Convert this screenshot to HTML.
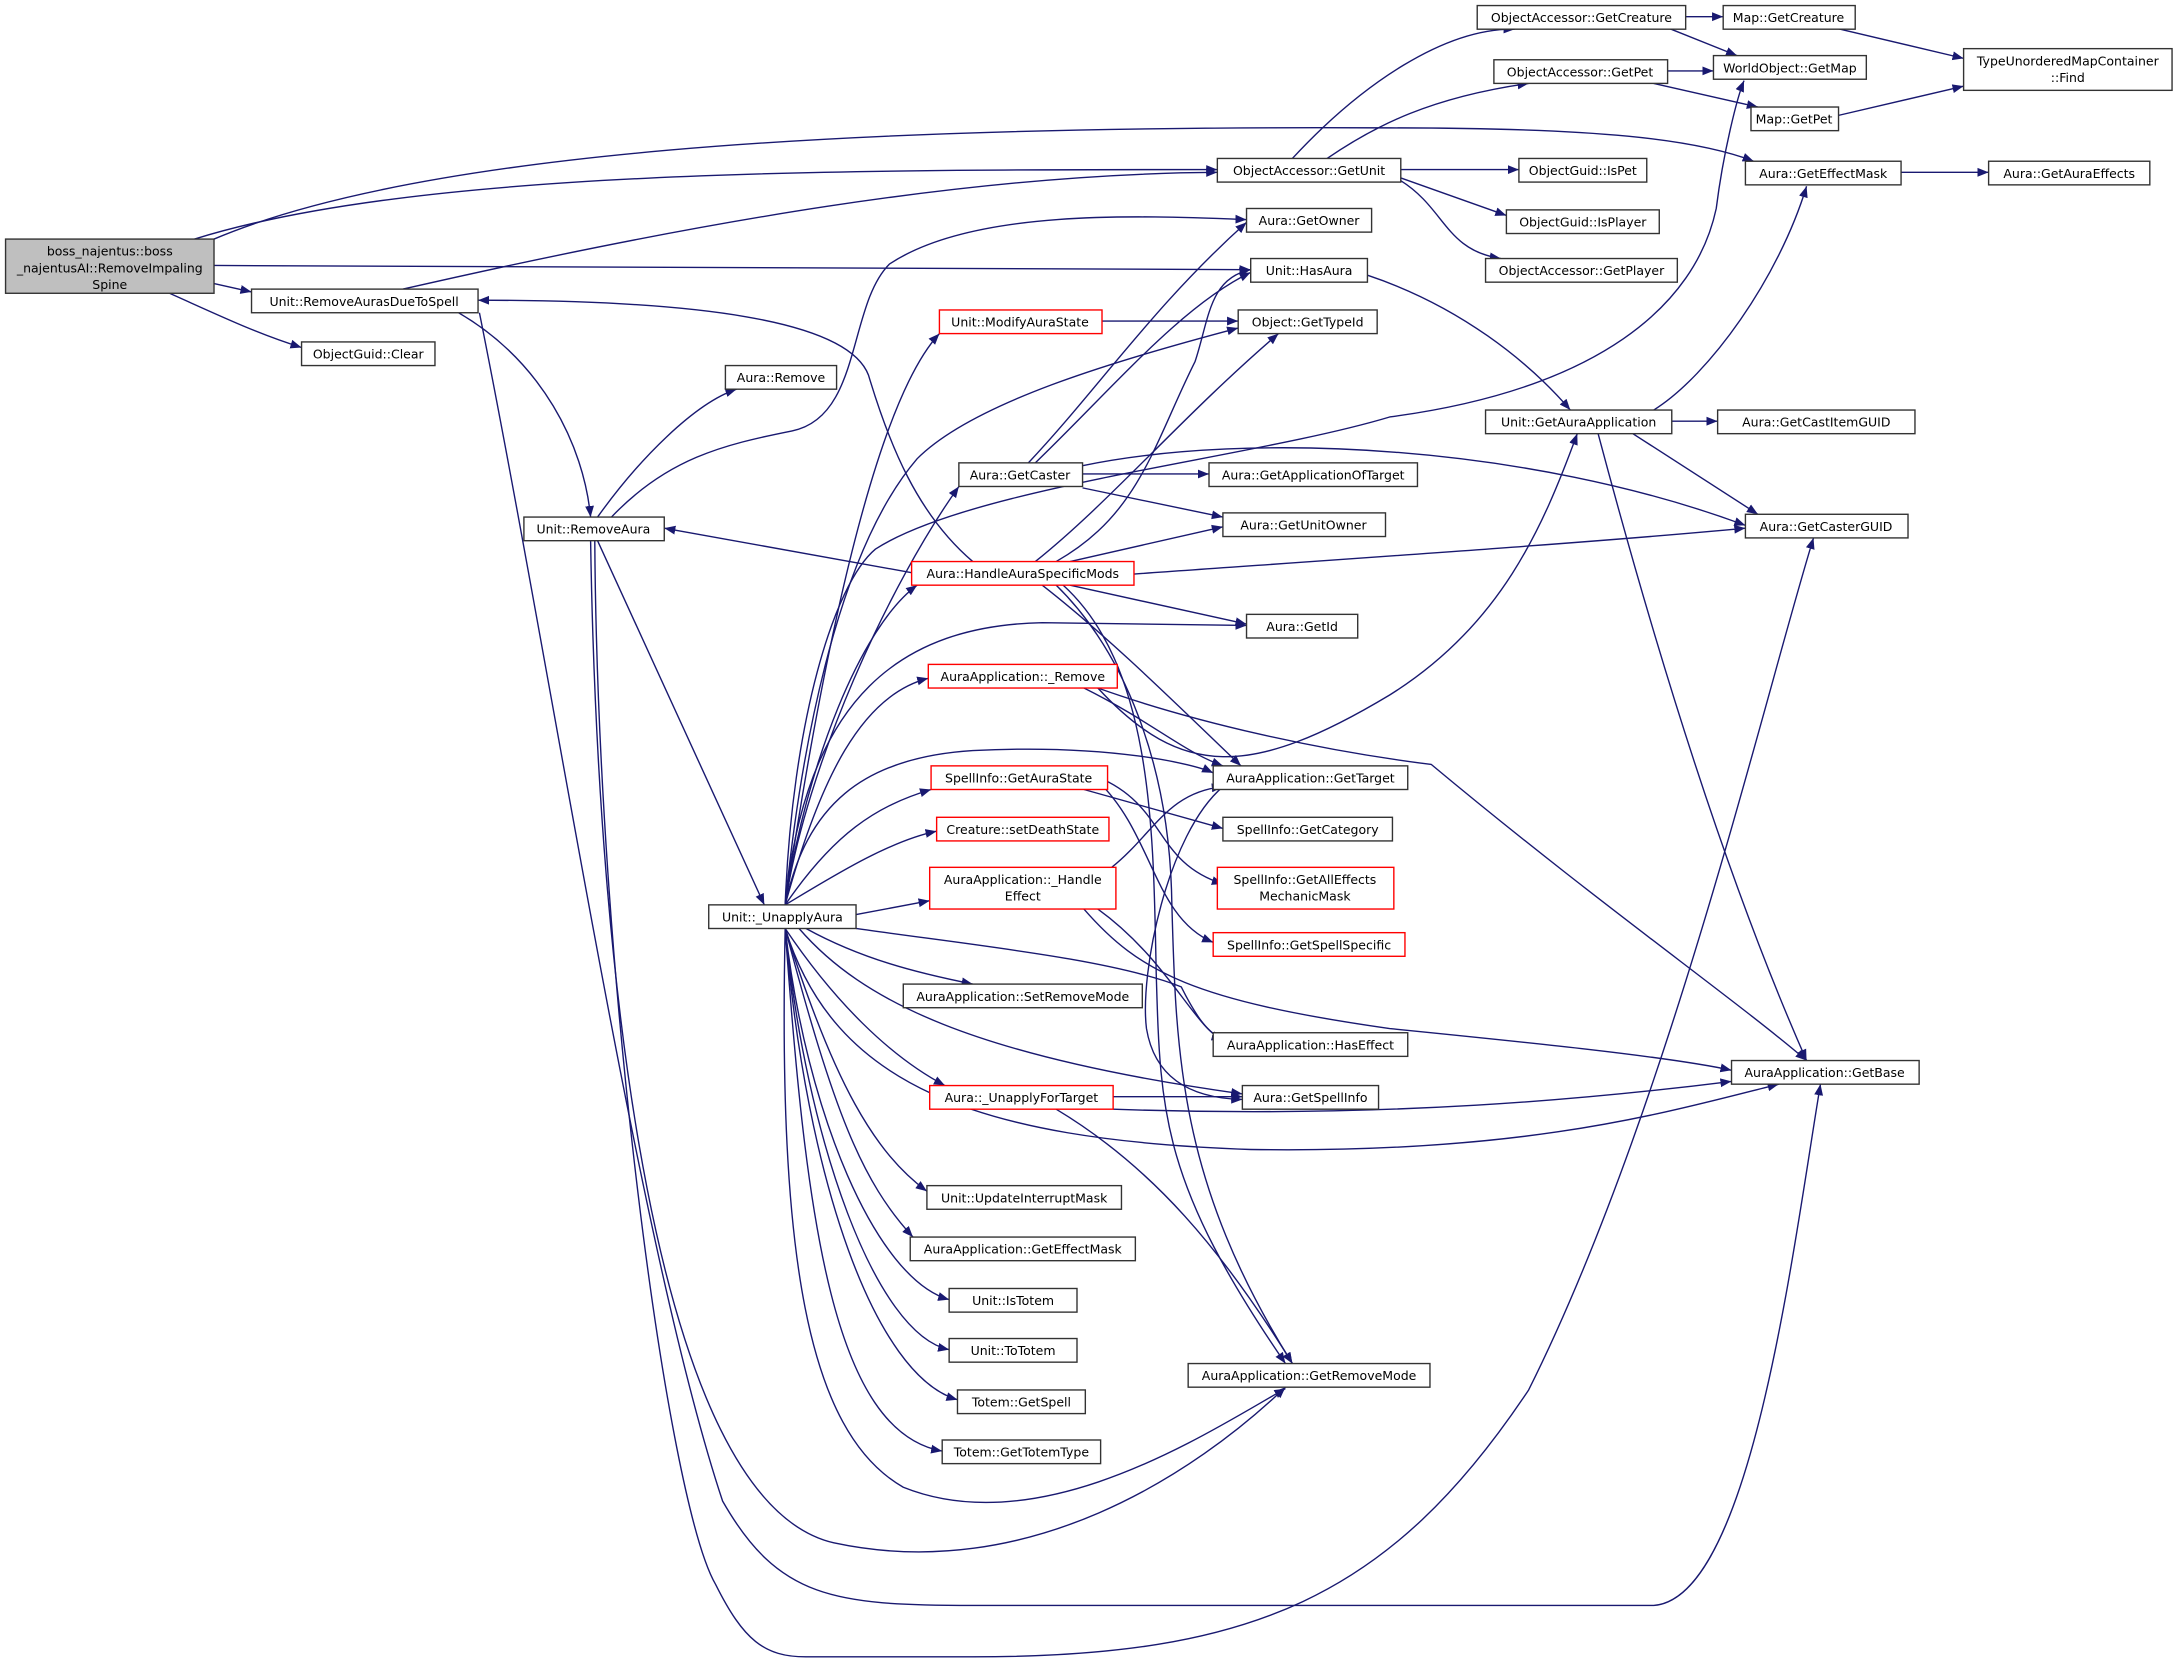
<!DOCTYPE html>
<html><head><meta charset="utf-8">
<style>
html,body{margin:0;padding:0;background:#fff;}
svg{display:block;}
text{font-family:"DejaVu Sans","Liberation Sans",sans-serif;font-size:9px;fill:#000;}
.e{fill:none;stroke:#191970;stroke-width:1;}
.n{fill:#fff;stroke:#333;stroke-width:1;}
.r{fill:#fff;stroke:#ff0000;stroke-width:1;}
</style></head><body>
<svg width="2179" height="1661" viewBox="0 0 1568 1195" preserveAspectRatio="none" xmlns="http://www.w3.org/2000/svg">
<defs><marker id="a" viewBox="0 0 10 10" refX="10" refY="5" markerWidth="8" markerHeight="8" orient="auto" markerUnits="userSpaceOnUse"><path d="M0,1 L10,5 L0,9 z" fill="#191970"/></marker></defs>
<g class="e" marker-end="url(#a)">
<path d="M140,172 C300,122 600,122 876,122"/>
<path d="M154,191 L900,194"/>
<path d="M154,204 L181,210"/>
<path d="M122,211 C160,228 185,240 217,250"/>
<path d="M154,172 C300,110 600,90 1000,92 C1150,92 1220,100 1262,116"/>
<path d="M290,208 C500,160 700,125 876,124"/>
<path d="M330,225 C390,260 420,320 425,372"/>
<path d="M345,225 C400,500 460,900 520,1080 C560,1150 600,1155 700,1155 L1190,1155 C1260,1150 1290,900 1310,780"/>
<path d="M430,372 C460,330 500,290 530,280"/>
<path d="M440,372 C480,330 520,320 570,310 C620,300 610,220 640,190 C700,150 820,155 897,158"/>
<path d="M430,389 L550,651"/>
<path d="M425,389 C430,700 470,1080 600,1110 C740,1140 860,1060 925,998"/>
<path d="M428,389 C430,700 480,1080 515,1140 C535,1180 550,1192 580,1192 L700,1192 C900,1192 1000,1150 1100,1000 C1200,800 1270,500 1305,387"/>
<path d="M656,412 L478,380"/>
<path d="M700,404 C660,370 640,320 625,270 C610,230 500,216 344,216"/>
<path d="M745,404 C800,360 850,300 920,240"/>
<path d="M760,404 C820,370 830,320 860,260 C870,230 870,200 900,194"/>
<path d="M770,404 L880,379"/>
<path d="M816,413 C1000,400 1150,390 1256,380"/>
<path d="M770,421 L897,449"/>
<path d="M750,421 C800,460 850,510 893,551"/>
<path d="M760,421 C810,470 840,550 843,640 C846,760 848,850 930,981"/>
<path d="M765,421 C830,480 830,600 832,700 C835,800 835,850 925,981"/>
<path d="M740,333 C790,280 830,220 897,160"/>
<path d="M745,333 C800,280 850,220 900,196"/>
<path d="M779,341 L870,341"/>
<path d="M779,351 L880,372"/>
<path d="M779,335 C900,310 1100,320 1256,378"/>
<path d="M793,231 L891,231"/>
<path d="M955,114 C990,90 1030,70 1100,60"/>
<path d="M930,114 C980,60 1040,20 1090,21"/>
<path d="M1008,122 L1093,122"/>
<path d="M1008,128 L1084,155"/>
<path d="M1008,130 C1040,150 1040,180 1080,186"/>
<path d="M1213,12 L1240,12"/>
<path d="M1200,20 L1250,40"/>
<path d="M1200,51 L1233,51"/>
<path d="M1190,60 L1265,77"/>
<path d="M1320,20 L1413,42"/>
<path d="M1323,83 L1413,62"/>
<path d="M1368,124 L1431,124"/>
<path d="M984,198 C1050,220 1100,260 1130,295"/>
<path d="M1203,303 L1236,303"/>
<path d="M1175,312 L1265,370"/>
<path d="M1150,312 C1200,500 1250,650 1300,763"/>
<path d="M1190,295 C1230,270 1280,200 1300,134"/>
<path d="M565,651 C580,550 620,300 676,240"/>
<path d="M565,651 C575,550 600,400 660,330 C700,290 800,260 891,236"/>
<path d="M565,651 C570,520 600,420 630,395 C700,350 900,330 1000,300 C1150,280 1220,220 1235,150 C1240,110 1250,70 1255,58"/>
<path d="M565,651 C580,550 640,420 690,350"/>
<path d="M565,651 C580,550 620,450 660,421"/>
<path d="M565,651 C580,500 650,450 750,448 L897,450"/>
<path d="M565,651 C590,560 620,500 668,488"/>
<path d="M565,651 C580,580 620,545 700,540 C800,535 860,550 873,556"/>
<path d="M565,651 C600,600 630,580 670,568"/>
<path d="M565,651 C600,630 640,605 674,598"/>
<path d="M616,658 L669,648"/>
<path d="M616,668 C700,680 800,690 850,710 C860,730 870,745 880,747"/>
<path d="M580,668 C620,690 660,700 700,708"/>
<path d="M575,668 C620,720 700,760 894,787"/>
<path d="M565,668 C600,720 640,760 680,781"/>
<path d="M565,668 C600,780 700,820 900,827 C1100,830 1200,800 1280,780"/>
<path d="M565,668 C600,780 630,830 667,857"/>
<path d="M565,668 C600,800 620,850 657,890"/>
<path d="M565,668 C580,800 630,920 683,935"/>
<path d="M565,668 C580,820 630,960 683,971"/>
<path d="M565,668 C580,850 630,990 689,1007"/>
<path d="M565,668 C580,880 600,1030 678,1044"/>
<path d="M565,668 C560,900 580,1030 650,1070 C750,1110 870,1030 925,999"/>
<path d="M790,495 C850,560 900,560 1000,500 C1080,450 1110,380 1135,312"/>
<path d="M780,495 C830,520 850,540 880,551"/>
<path d="M790,495 C860,520 950,540 1030,550 C1150,650 1250,720 1300,763"/>
<path d="M780,568 L880,596"/>
<path d="M790,559 C840,580 830,620 880,636"/>
<path d="M790,562 C830,600 830,660 873,678"/>
<path d="M800,624 C830,600 840,570 880,566"/>
<path d="M790,654 C840,690 860,740 880,748"/>
<path d="M780,654 C820,700 860,720 1000,740 C1100,750 1200,760 1246,770"/>
<path d="M880,566 C840,600 820,700 825,740 C830,770 850,790 894,791"/>
<path d="M801,789 L894,789"/>
<path d="M801,798 C1000,805 1150,790 1246,778"/>
<path d="M760,798 C830,840 880,900 930,981"/>
</g>
<g>
<rect x="4" y="172" width="150" height="39" fill="#bfbfbf" stroke="#333"/>
<text x="79" y="184" text-anchor="middle">boss_najentus::boss</text>
<text x="79" y="196" text-anchor="middle">_najentusAI::RemoveImpaling</text>
<text x="79" y="208" text-anchor="middle">Spine</text>
</g>
<g text-anchor="middle">
<rect class="n" x="181" y="208" width="163" height="17"/><text x="262" y="220">Unit::RemoveAurasDueToSpell</text>
<rect class="n" x="217" y="246" width="96" height="17"/><text x="265" y="258">ObjectGuid::Clear</text>
<rect class="n" x="522" y="263" width="80" height="17"/><text x="562" y="275">Aura::Remove</text>
<rect class="n" x="377" y="372" width="101" height="17"/><text x="427" y="384">Unit::RemoveAura</text>
<rect class="n" x="510" y="651" width="106" height="17"/><text x="563" y="663">Unit::_UnapplyAura</text>
<rect class="n" x="1063" y="4" width="150" height="17"/><text x="1138" y="16">ObjectAccessor::GetCreature</text>
<rect class="n" x="1075" y="43" width="125" height="17"/><text x="1137" y="55">ObjectAccessor::GetPet</text>
<rect class="n" x="876" y="114" width="132" height="17"/><text x="942" y="126">ObjectAccessor::GetUnit</text>
<rect class="n" x="1240" y="4" width="95" height="17"/><text x="1287" y="16">Map::GetCreature</text>
<rect class="n" x="1233" y="40" width="110" height="17"/><text x="1288" y="52">WorldObject::GetMap</text>
<rect class="n" x="1260" y="77" width="63" height="17"/><text x="1291" y="89">Map::GetPet</text>
<rect class="n" x="1413" y="35" width="150" height="30"/><text x="1488" y="47">TypeUnorderedMapContainer</text><text x="1488" y="59">::Find</text>
<rect class="n" x="1256" y="116" width="112" height="17"/><text x="1312" y="128">Aura::GetEffectMask</text>
<rect class="n" x="1431" y="116" width="116" height="17"/><text x="1489" y="128">Aura::GetAuraEffects</text>
<rect class="n" x="1093" y="114" width="92" height="17"/><text x="1139" y="126">ObjectGuid::IsPet</text>
<rect class="n" x="1084" y="151" width="110" height="17"/><text x="1139" y="163">ObjectGuid::IsPlayer</text>
<rect class="n" x="1069" y="186" width="138" height="17"/><text x="1138" y="198">ObjectAccessor::GetPlayer</text>
<rect class="n" x="897" y="150" width="90" height="17"/><text x="942" y="162">Aura::GetOwner</text>
<rect class="n" x="900" y="186" width="84" height="17"/><text x="942" y="198">Unit::HasAura</text>
<rect class="n" x="891" y="223" width="100" height="17"/><text x="941" y="235">Object::GetTypeId</text>
<rect class="r" x="676" y="223" width="117" height="17"/><text x="734" y="235">Unit::ModifyAuraState</text>
<rect class="n" x="1069" y="295" width="134" height="17"/><text x="1136" y="307">Unit::GetAuraApplication</text>
<rect class="n" x="1236" y="295" width="142" height="17"/><text x="1307" y="307">Aura::GetCastItemGUID</text>
<rect class="n" x="690" y="333" width="89" height="17"/><text x="734" y="345">Aura::GetCaster</text>
<rect class="n" x="870" y="333" width="150" height="17"/><text x="945" y="345">Aura::GetApplicationOfTarget</text>
<rect class="n" x="880" y="369" width="117" height="17"/><text x="938" y="381">Aura::GetUnitOwner</text>
<rect class="n" x="1256" y="370" width="117" height="17"/><text x="1314" y="382">Aura::GetCasterGUID</text>
<rect class="r" x="656" y="404" width="160" height="17"/><text x="736" y="416">Aura::HandleAuraSpecificMods</text>
<rect class="n" x="897" y="442" width="80" height="17"/><text x="937" y="454">Aura::GetId</text>
<rect class="r" x="668" y="478" width="136" height="17"/><text x="736" y="490">AuraApplication::_Remove</text>
<rect class="n" x="873" y="551" width="140" height="17"/><text x="943" y="563">AuraApplication::GetTarget</text>
<rect class="r" x="670" y="551" width="127" height="17"/><text x="733" y="563">SpellInfo::GetAuraState</text>
<rect class="n" x="880" y="588" width="122" height="17"/><text x="941" y="600">SpellInfo::GetCategory</text>
<rect class="r" x="674" y="588" width="124" height="17"/><text x="736" y="600">Creature::setDeathState</text>
<rect class="r" x="669" y="624" width="134" height="30"/><text x="736" y="636">AuraApplication::_Handle</text><text x="736" y="648">Effect</text>
<rect class="r" x="876" y="624" width="127" height="30"/><text x="939" y="636">SpellInfo::GetAllEffects</text><text x="939" y="648">MechanicMask</text>
<rect class="r" x="873" y="671" width="138" height="17"/><text x="942" y="683">SpellInfo::GetSpellSpecific</text>
<rect class="n" x="650" y="708" width="172" height="17"/><text x="736" y="720">AuraApplication::SetRemoveMode</text>
<rect class="n" x="873" y="743" width="140" height="17"/><text x="943" y="755">AuraApplication::HasEffect</text>
<rect class="n" x="1246" y="763" width="135" height="17"/><text x="1313" y="775">AuraApplication::GetBase</text>
<rect class="r" x="669" y="781" width="132" height="17"/><text x="735" y="793">Aura::_UnapplyForTarget</text>
<rect class="n" x="894" y="781" width="98" height="17"/><text x="943" y="793">Aura::GetSpellInfo</text>
<rect class="n" x="667" y="853" width="140" height="17"/><text x="737" y="865">Unit::UpdateInterruptMask</text>
<rect class="n" x="655" y="890" width="162" height="17"/><text x="736" y="902">AuraApplication::GetEffectMask</text>
<rect class="n" x="683" y="927" width="92" height="17"/><text x="729" y="939">Unit::IsTotem</text>
<rect class="n" x="683" y="963" width="92" height="17"/><text x="729" y="975">Unit::ToTotem</text>
<rect class="n" x="689" y="1000" width="92" height="17"/><text x="735" y="1012">Totem::GetSpell</text>
<rect class="n" x="678" y="1036" width="114" height="17"/><text x="735" y="1048">Totem::GetTotemType</text>
<rect class="n" x="855" y="981" width="174" height="17"/><text x="942" y="993">AuraApplication::GetRemoveMode</text>
</g>
</svg>
</body></html>
